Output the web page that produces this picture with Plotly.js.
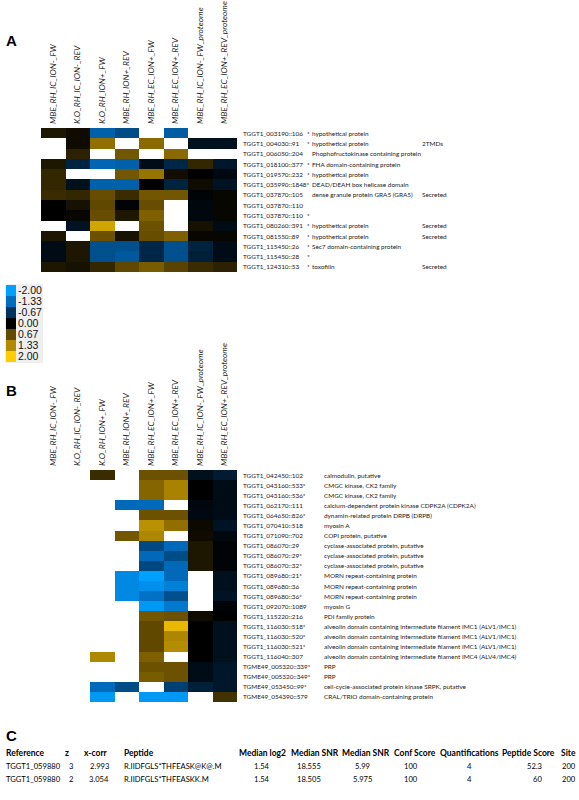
<!DOCTYPE html>
<html><head><meta charset="utf-8">
<script src="https://cdn.plot.ly/plotly-3.0.1.min.js"></script>
<style>html,body{margin:0;padding:0;background:#fff}</style>
</head><body><div id="chart" style="width:579px;height:800px"></div>
<script>
// ---------- DATA ----------
const columns = ['MBE_RH_IC_ION-_FW','K.O_RH_IC_ION-_REV','K.O_RH_ION+_FW','MBE_RH_ION+_REV',
  'MBE_RH_EC_ION+_FW','MBE_RH_EC_ION+_REV','MBE_RH_IC_ION-_FW_proteome','MBE_RH_EC_ION+_REV_proteome'];

const idsA = ['TGGT1_003190::106','TGGT1_004030::91','TGGT1_006050::204','TGGT1_018100::377','TGGT1_019570::232',
  'TGGT1_035990::1848*','TGGT1_037870::105','TGGT1_037870::110','TGGT1_037870::110','TGGT1_080260::391',
  'TGGT1_081550::89','TGGT1_115450::26','TGGT1_115450::28','TGGT1_124310::53'];
const starA = ['*','*','','*','*','','','','*','*','*','*','*','*'];
const descA = ['hypothetical protein','hypothetical protein','Phophofructokinase containing protein','FHA domain-containing protein',
  'hypothetical protein','DEAD/DEAH box helicase domain','dense granule protein GRA5 (GRA5)','','','hypothetical protein',
  'hypothetical protein','Sec7 domain-containing protein','','toxofilin'];
const noteA = ['','2TMDs','','','','','Secreted','','','Secreted','Secreted','','','Secreted'];
const n = null;
const zA = [
  [0.2, 0.1, -1.2, -0.95, n, -1.15, n, n],
  [n, 0.1, 1.05, n, 1.0, n, -0.2, -0.2],
  [n, 0.3, n, 0.8, n, 1.0, n, n],
  [0.2, -0.45, -1.25, -1.2, -0.15, -0.5, 0.35, -0.3],
  [0.35, n, n, 0.8, 1.1, 0.12, 0.0, -0.12],
  [0.35, -0.2, -1.2, -1.2, 0.0, -0.45, 0.1, -0.25],
  [0.4, 0.35, 0.7, 0.4, 0.8, 0.8, -0.05, 0.05],
  [0.0, 0.15, 0.65, -0.05, 0.7, n, -0.1, 0.05],
  [0.0, 0.05, 0.7, 0.2, 0.9, n, -0.1, 0.05],
  [n, -0.25, 1.6, n, 0.75, n, 0.15, -0.15],
  [0.2, n, 0.75, 0.15, 0.7, 0.9, 0.05, 0.05],
  [-0.15, 0.2, -1.0, -1.0, -0.5, -1.0, -0.45, -0.15],
  [-0.15, 0.2, -1.0, -1.1, -0.5, -1.0, -0.4, -0.15],
  [0.2, 0.15, 0.35, 0.65, 0.85, 0.6, 0.4, 0.3]
];

const idsB = ['TGGT1_042450::102','TGGT1_043160::533*','TGGT1_043160::536*','TGGT1_062170::111','TGGT1_064650::826*',
  'TGGT1_070410::518','TGGT1_071090::702','TGGT1_086070::29','TGGT1_086070::29*','TGGT1_086070::32*',
  'TGGT1_089680::21*','TGGT1_089680::36','TGGT1_089680::36*','TGGT1_092070::1089','TGGT1_115220::216',
  'TGGT1_116030::518*','TGGT1_116030::520*','TGGT1_116030::521*','TGGT1_116040::307','TGME49_005320::339*',
  'TGME49_005320::349*','TGME49_053450::99*','TGME49_054390::579'];
const descB = ['calmodulin, putative','CMGC kinase, CK2 family','CMGC kinase, CK2 family',
  'calcium-dependent protein kinase CDPK2A (CDPK2A)','dynamin-related protein DRPB (DRPB)','myosin A',
  'COPI protein, putative','cyclase-associated protein, putative','cyclase-associated protein, putative',
  'cyclase-associated protein, putative','MORN repeat-containing protein','MORN repeat-containing protein',
  'MORN repeat-containing protein','myosin G','PDI family protein',
  'alveolin domain containing intermediate filament IMC1 (ALV1/IMC1)',
  'alveolin domain containing intermediate filament IMC1 (ALV1/IMC1)',
  'alveolin domain containing intermediate filament IMC1 (ALV1/IMC1)',
  'alveolin domain containing intermediate filament IMC4 (ALV4/IMC4)','PRP','PRP',
  'cell-cycle-associated protein kinase SRPK, putative','CRAL/TRIO domain-containing protein'];
const zB = [
  [n, n, 0.4, n, 0.75, 0.75, -0.2, -0.35],
  [n, n, n, n, 0.95, 1.25, 0.0, -0.15],
  [n, n, n, n, 0.95, 1.25, 0.0, -0.15],
  [n, n, n, -1.3, -1.3, n, -0.1, -0.15],
  [n, n, n, n, 0.75, 0.75, -0.12, -0.15],
  [n, n, n, n, 1.4, 1.05, 0.08, -0.25],
  [n, n, n, 0.8, 1.3, n, 0.1, -0.1],
  [n, n, n, n, -0.9, -1.3, 0.2, -0.05],
  [n, n, n, n, -1.3, -0.95, 0.2, -0.05],
  [n, n, n, n, -0.9, -1.3, 0.2, -0.05],
  [n, n, n, -1.7, -2.0, -1.3, n, -0.2],
  [n, n, n, -1.7, -1.8, -1.6, n, -0.2],
  [n, n, n, -1.7, -1.4, -1.0, n, -0.25],
  [n, n, n, n, -1.9, -1.5, n, -0.05],
  [n, n, n, n, 0.8, 0.75, 0.1, 0.0],
  [n, n, n, n, 0.65, 1.8, 0.0, -0.2],
  [n, n, n, n, 0.65, 1.3, 0.0, -0.2],
  [n, n, n, n, 0.65, 1.35, 0.0, -0.2],
  [n, n, 1.3, n, 0.9, n, 0.0, -0.2],
  [n, n, n, n, 0.75, 0.75, -0.15, -0.3],
  [n, n, n, n, 0.85, 0.75, -0.15, -0.3],
  [n, n, -1.3, -0.95, n, -0.8, -0.4, -0.3],
  [n, n, -1.9, n, -1.9, -1.9, n, 0.45]
];

const legendVals = [-2, -1.33, -0.67, 0, 0.67, 1.33, 2];
const legendLabels = ['-2.00','-1.33','-0.67','0.00','0.67','1.33','2.00'];

const tblHeader = ['Reference','z','x-corr','Peptide','Median log2','Median SNR','Median SNR','Conf Score','Quantifications','Peptide Score','Site'];
const tblRow1 = ['TGGT1_059880','3','2.993','R.IIDFGLS*THFEASK@K@.M','1.54','18.555','5.99','100','4','52.3','200'];
const tblRow2 = ['TGGT1_059880','2','3.054','R.IIDFGLS*THFEASKK.M','1.54','18.505','5.975','100','4','60','200'];

// ---------- STYLE / LAYOUT ----------
const W = 579, H = 800;
const px = v => v / W, py = v => 1 - v / H;
const cscale = [[0,'rgb(0,160,255)'],[0.1667,'rgb(0,108,190)'],[0.3333,'rgb(0,52,95)'],[0.5,'rgb(0,0,0)'],
  [0.6667,'rgb(98,74,0)'],[0.8333,'rgb(178,138,0)'],[1,'rgb(255,205,0)']];
const LF = 'Lato, "Open Sans", sans-serif';
const txt = '#1a1a1a';
const idx = k => Array.from({length:k}, (_, i) => i);

const hm = (z, xa, ya) => ({type:'heatmap', z: z, x: idx(columns.length), y: idx(z.length),
  xaxis: xa, yaxis: ya, colorscale: cscale, zmin: -2, zmax: 2, showscale: false, hoverinfo: 'skip'});

const traces = [
  hm(zA, 'x', 'y'),
  hm(zB, 'x2', 'y2'),
  {type:'heatmap', z: legendVals.map(v => [v]), x:[0], y: idx(legendVals.length), xaxis:'x3', yaxis:'y3',
   colorscale: cscale, zmin:-2, zmax:2, showscale:false, hoverinfo:'skip'}
];

const xTop = dom => ({domain: dom, range:[-0.5, 7.5], side:'top', tickmode:'array', tickvals: idx(8),
  ticktext: columns.map(c => '<i>' + c + '</i>'), tickangle: -90, ticks:'', ticklabelstandoff: 3,
  tickfont:{family: LF, size: 8.4, color: txt}, showgrid:false, zeroline:false, showline:false, fixedrange:true});
const yHid = (dom, k) => ({domain: dom, range:[k - 0.5, -0.5], showticklabels:false, showgrid:false,
  zeroline:false, showline:false, ticks:'', fixedrange:true});

const layout = {
  width: W, height: H, margin:{l:0, r:0, t:0, b:0}, paper_bgcolor:'#fff', plot_bgcolor:'rgba(0,0,0,0)',
  showlegend:false,
  xaxis: Object.assign(xTop([px(41), px(237)]), {anchor:'y'}),
  yaxis: Object.assign(yHid([py(272), py(128)], zA.length), {anchor:'x'}),
  xaxis2: Object.assign(xTop([px(41), px(237)]), {anchor:'y2'}),
  yaxis2: Object.assign(yHid([py(702), py(470)], zB.length), {anchor:'x2'}),
  xaxis3: {domain:[px(6), px(16)], range:[-0.5, 0.5], visible:false, anchor:'y3', fixedrange:true},
  yaxis3: {domain:[py(362), py(285)], range:[6.5, -0.5], side:'right', anchor:'x3', tickmode:'array',
    tickvals: idx(7), ticktext: legendLabels, ticks:'', ticklabelstandoff: 1,
    tickfont:{family:'"Liberation Sans", Arial, sans-serif', size:10.5, color:'#111'},
    showgrid:false, zeroline:false, showline:false, fixedrange:true},
  shapes: [{type:'rect', xref:'paper', yref:'paper', x0: px(5), x1: px(43), y0: py(363), y1: py(284),
    fillcolor:'#efefef', line:{width:0}, layer:'below'}],
  annotations: []
};
const ann = layout.annotations;
const big = t => ({text:'<b>'+t+'</b>', font:{family:'"Liberation Sans", Arial, sans-serif', size:15, color:'#000'}});
ann.push(Object.assign({x: px(4), y: py(40), xref:'paper', yref:'paper', xanchor:'left', yanchor:'middle', showarrow:false}, big('A')));
ann.push(Object.assign({x: px(4), y: py(390), xref:'paper', yref:'paper', xanchor:'left', yanchor:'middle', showarrow:false}, big('B')));
ann.push(Object.assign({x: px(4), y: py(735), xref:'paper', yref:'paper', xanchor:'left', yanchor:'middle', showarrow:false}, big('C')));

const FS = 6.4;
const lab = (x, y, yref, text) => ({x: px(x), y: y, xref:'paper', yref: yref, text: text, xanchor:'left',
  yanchor:'middle', showarrow:false, font:{family: LF, size: FS, color: txt}});
ann.push(lab(241, -1.1, 'y', 'Identifier'));
idsA.forEach((t, i) => {
  ann.push(lab(241, i, 'y', t));
  if (starA[i]) ann.push(lab(305, i, 'y', starA[i]));
  if (descA[i]) ann.push(lab(310, i, 'y', descA[i]));
  if (noteA[i]) ann.push(lab(420, i, 'y', noteA[i]));
});
ann.push(lab(241, -1.1, 'y2', 'identifier'));
idsB.forEach((t, i) => {
  ann.push(lab(241, i, 'y2', t));
  ann.push(lab(322, i, 'y2', descB[i]));
});

// table C
const hX = [4, 63, 82, 122, 237, 289, 340, 392, 438, 500, 578];
const hAnch = ['left','left','left','left','left','left','left','left','left','left','right'];
const cX = [4, 71, 111, 122, 262, 309, 362, 411, 469, 544, 578];
const cAnch = ['left','center','right','left','center','center','center','center','center','right','right'];
const tfH = {family: LF, size: 8.5, color:'#000'};
const tfC = {family: LF, size: 7.6, color:'#000'};
tblHeader.forEach((h, j) => {
  ann.push({x: px(hX[j]), y: py(753), xref:'paper', yref:'paper', text:'<b>'+h+'</b>', xanchor: hAnch[j],
    yanchor:'middle', showarrow:false, font: tfH});
});
[tblRow1, tblRow2].forEach((row, r) => {
  row.forEach((v, j) => {
    ann.push({x: px(cX[j]), y: py(766 + r * 13), xref:'paper', yref:'paper', text: v, xanchor: cAnch[j],
      yanchor:'middle', showarrow:false, font: tfC});
  });
});

Plotly.newPlot('chart', traces, layout, {displayModeBar:false, staticPlot:true});
</script></body></html>
